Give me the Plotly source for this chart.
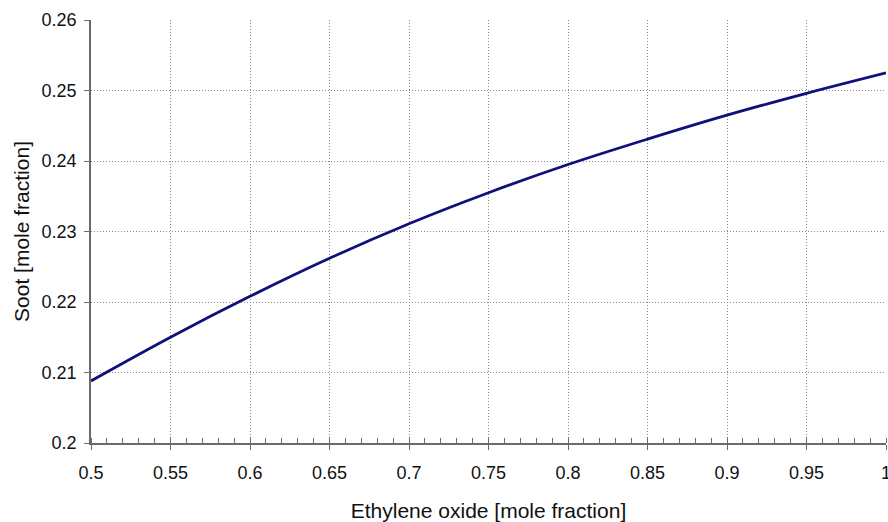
import plotly.graph_objects as go

x_vals = [0.5, 0.55, 0.6, 0.65, 0.7, 0.75, 0.8, 0.85, 0.9, 0.95, 1.0]
soot = [0.2088, 0.2150, 0.2208, 0.2262, 0.2311, 0.2355, 0.2395, 0.2431, 0.2465, 0.2496, 0.2525]

x_ticks = [0.5, 0.55, 0.6, 0.65, 0.7, 0.75, 0.8, 0.85, 0.9, 0.95, 1.0]
x_tick_text = ["0.5", "0.55", "0.6", "0.65", "0.7", "0.75", "0.8", "0.85", "0.9", "0.95", "1"]
y_ticks = [0.2, 0.21, 0.22, 0.23, 0.24, 0.25, 0.26]
y_tick_text = ["0.2", "0.21", "0.22", "0.23", "0.24", "0.25", "0.26"]

FAM = "Liberation Sans, Arial, sans-serif"
tick_font = dict(family=FAM, size=18, color="#111111")
title_font = dict(family=FAM, size=21, color="#111111")

fig = go.Figure()
fig.add_trace(go.Scatter(
    x=x_vals, y=soot, mode="lines",
    line=dict(color="#10107a", width=2.8, shape="spline", smoothing=1.0),
    showlegend=False, hoverinfo="skip",
))

fig.update_layout(
    width=888, height=522,
    margin=dict(l=91, r=2, t=20, b=79, autoexpand=False),
    paper_bgcolor="white", plot_bgcolor="white",
    font=tick_font,
    xaxis=dict(
        range=[0.5, 1.0],
        automargin=False,
        tickmode="array", tickvals=x_ticks, ticktext=x_tick_text,
        showgrid=True, gridcolor="#8a8a8a", griddash="1px,2px", gridwidth=1,
        showline=True, linecolor="#6a6a6a", linewidth=1.5,
        ticks="outside", ticklen=5, tickcolor="#6a6a6a", tickwidth=1.2,
        minor=dict(dtick=0.01, ticks="inside", ticklen=5, tickcolor="#6a6a6a", tickwidth=1.2, showgrid=False),
        zeroline=False,
        tickfont=tick_font,
        ticklabelstandoff=8,
        ticklabeloverflow="allow",
        title=dict(text="Ethylene oxide [mole fraction]", font=title_font, standoff=24),
    ),
    yaxis=dict(
        range=[0.2, 0.26],
        automargin=False,
        tickmode="array", tickvals=y_ticks, ticktext=y_tick_text,
        showgrid=True, gridcolor="#8a8a8a", griddash="1px,2px", gridwidth=1,
        showline=True, linecolor="#6a6a6a", linewidth=1.5,
        ticks="outside", ticklen=5, tickcolor="#6a6a6a", tickwidth=1.2,
        zeroline=False,
        tickfont=tick_font,
        ticklabelstandoff=4,
        ticklabeloverflow="allow",
        title=dict(text="Soot [mole fraction]", font=title_font, standoff=6),
    ),
)

fig.write_html("out.html")
